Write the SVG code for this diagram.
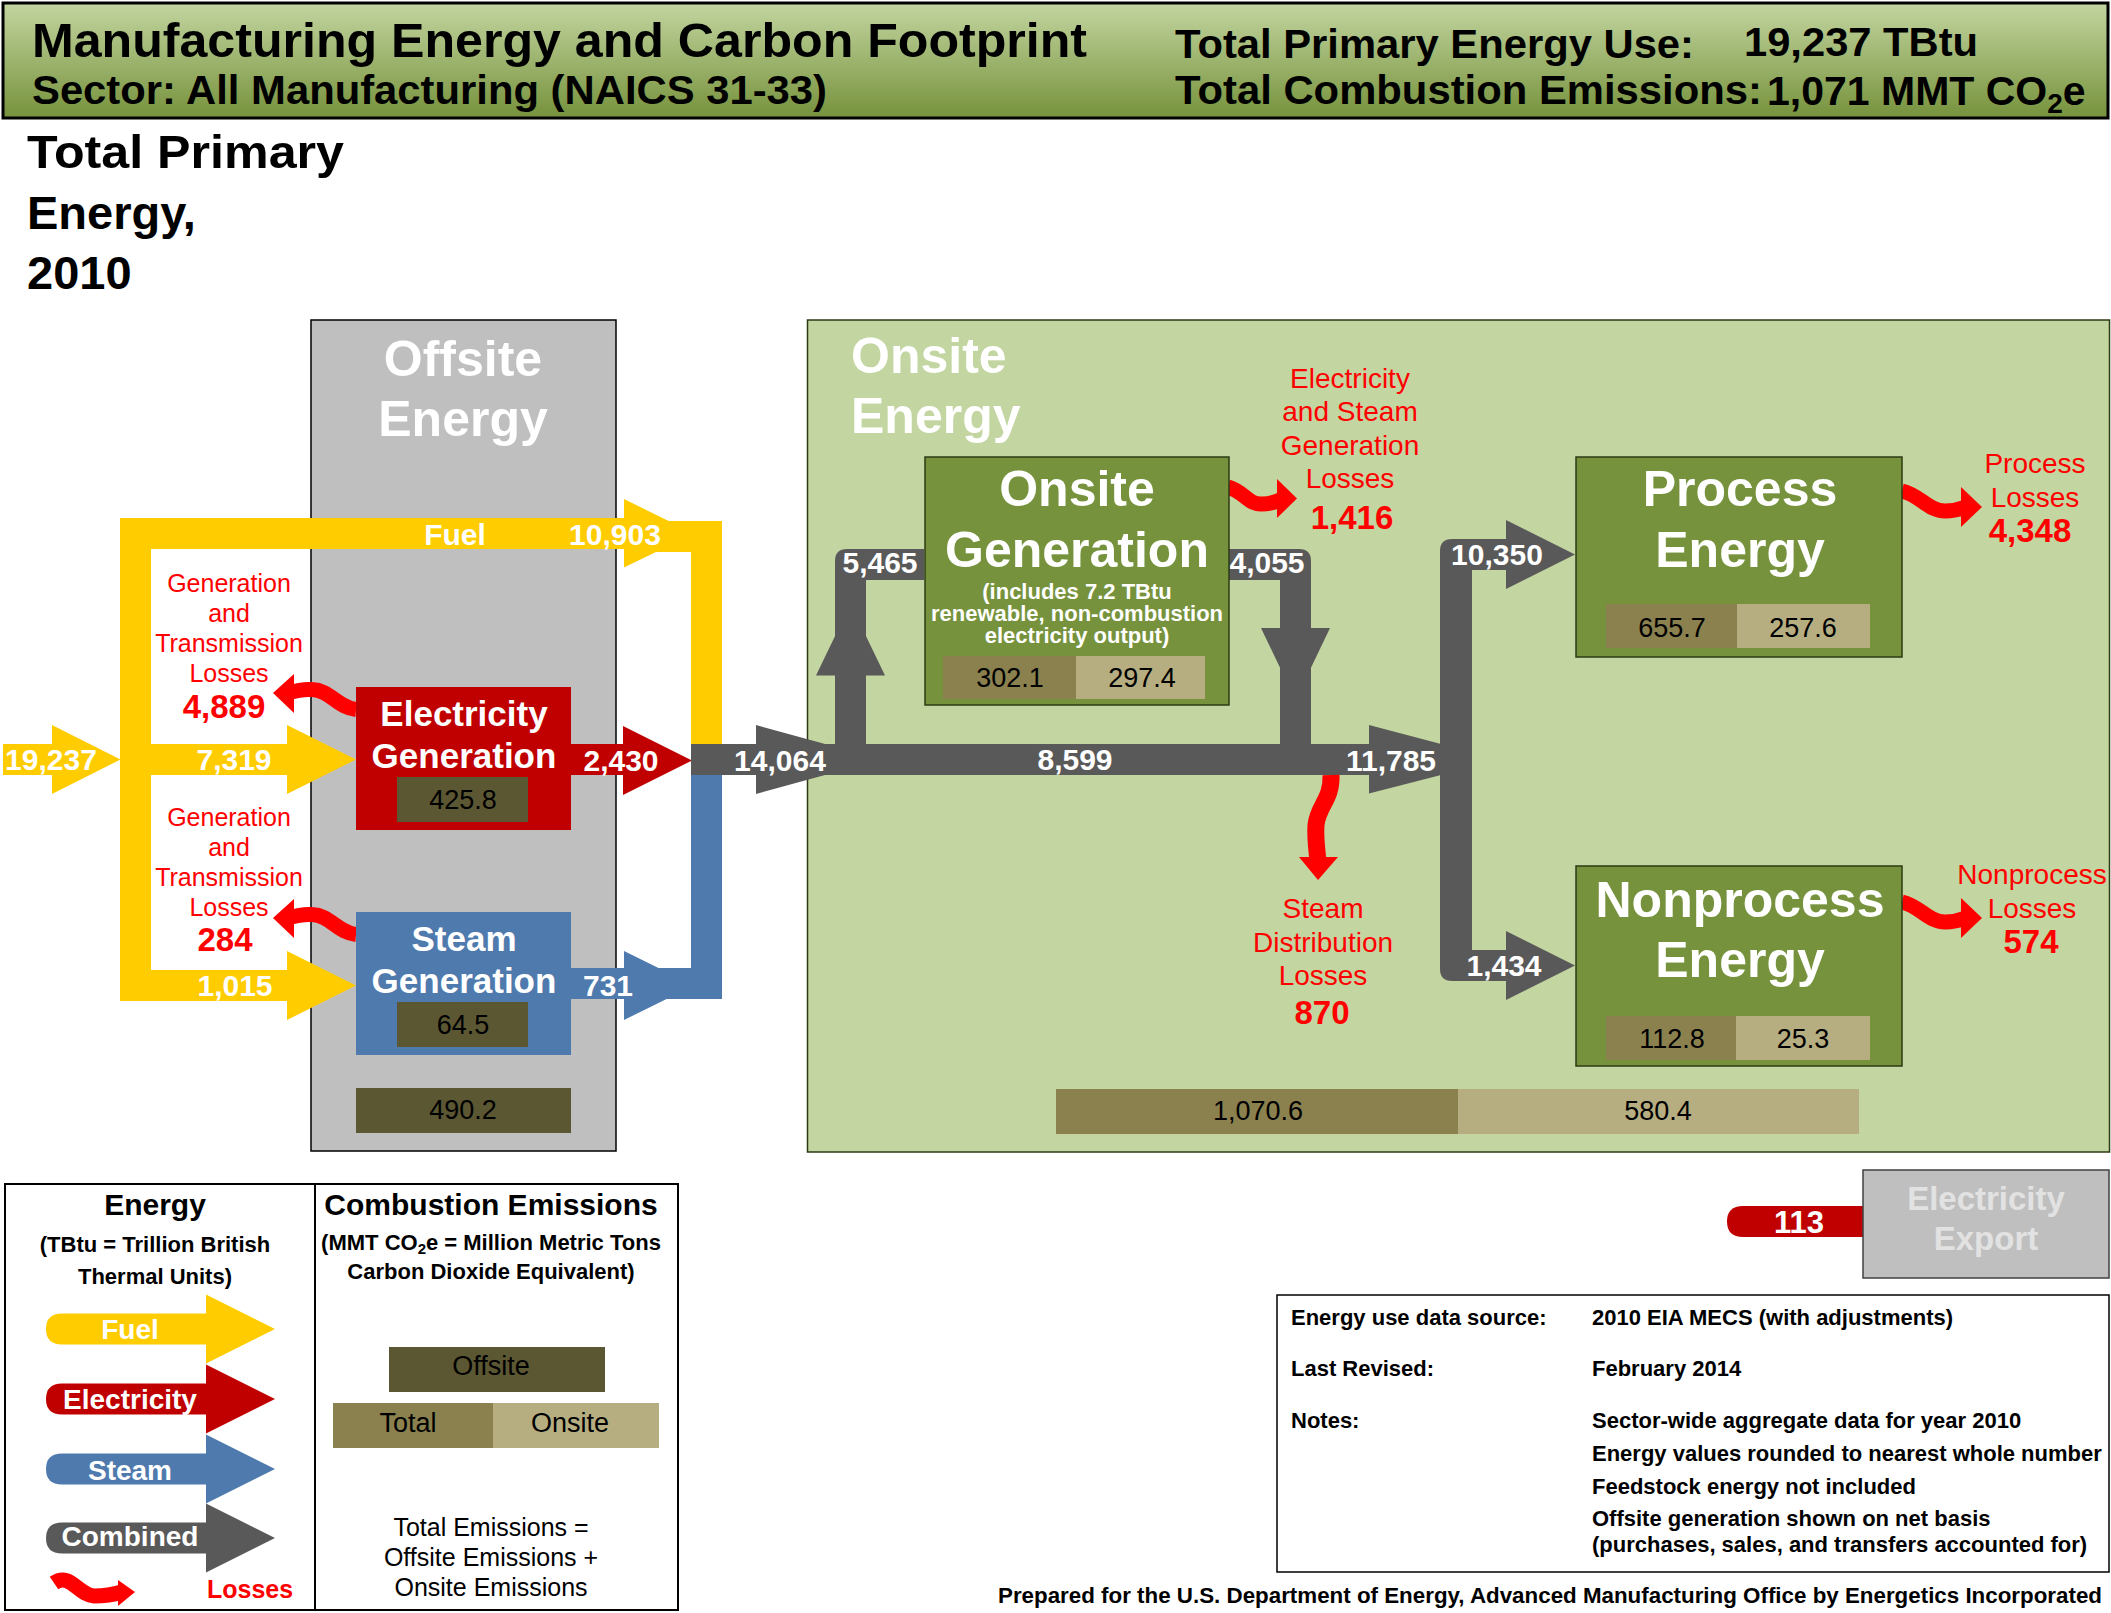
<svg xmlns="http://www.w3.org/2000/svg" width="2111" height="1613" viewBox="0 0 2111 1613">
<style>
text{font-family:"Liberation Sans",Arial,sans-serif}
.b{font-weight:700}
.m{text-anchor:middle}
.w{fill:#fff}
.fl{font-size:30px;font-weight:700;fill:#fff;text-anchor:middle}
.r{fill:#f00;font-size:25px;text-anchor:middle}
.r2{fill:#f00;font-size:28px;text-anchor:middle}
.rb{fill:#f00;font-size:33px;font-weight:700;text-anchor:middle}
.h{font-size:50px;font-weight:700;fill:#fff;text-anchor:middle}
.e{font-size:27px;fill:#000;text-anchor:middle}
.n{font-size:22px;font-weight:700;fill:#000}
.gbox{fill:#76923c;stroke:#2d3a14;stroke-width:1.5}
.dk{fill:#5c5733}.md{fill:#8a814f}.lt{fill:#b6ae81}
.lw{fill:none;stroke:#f00;stroke-width:15}
.lh{fill:#f00}
.y{fill:#fc0}.rd{fill:#c00000}.bl{fill:#4f7aae}.gr{fill:#595959}
</style>
<defs>
<linearGradient id="hdr" x1="0" y1="0" x2="0" y2="1"><stop offset="0" stop-color="#c3d5a0"/><stop offset="1" stop-color="#76923c"/></linearGradient>
<path id="legendArrow" d="M206 -15.5V-34.5L275 0L206 34.5V15.5H62Q46 15.5 46 0Q46 -15.5 62 -15.5Z"/>
<g id="lossLeft"><path class="lw" d="M356 709.5C338 708 330 690 312 689.5C305 689 298 690 288 693"/><polygon class="lh" points="273,693 294,674 294,713"/></g>
<g id="lossRight"><path class="lw" d="M1902 491C1920 495 1928 511 1945 511C1952 511 1958 510 1966 507"/><polygon class="lh" points="1982,507 1961,487 1961,527"/></g>
</defs>

<g id="header">
<rect x="3" y="3" width="2105" height="115" fill="url(#hdr)" stroke="#000" stroke-width="3"/>
<text class="b" x="32" y="57" font-size="48" textLength="1055" lengthAdjust="spacingAndGlyphs">Manufacturing Energy and Carbon Footprint</text>
<text class="b" x="32" y="104" font-size="40" textLength="795" lengthAdjust="spacingAndGlyphs">Sector: All Manufacturing (NAICS 31-33)</text>
<text class="b" x="1175" y="58" font-size="41" textLength="519" lengthAdjust="spacingAndGlyphs">Total Primary Energy Use:</text>
<text class="b" x="1744" y="56" font-size="41" textLength="234" lengthAdjust="spacingAndGlyphs">19,237 TBtu</text>
<text class="b" x="1175" y="104" font-size="41" textLength="587" lengthAdjust="spacingAndGlyphs">Total Combustion Emissions:</text>
<text class="b" x="1767" y="105" font-size="41">1,071 MMT CO<tspan font-size="28" dy="8">2</tspan><tspan dy="-8">e</tspan></text>
</g>
<g id="title"><text class="b" font-size="47" x="27" y="168" textLength="317" lengthAdjust="spacingAndGlyphs">Total Primary</text><text class="b" font-size="47" x="27" y="229">Energy,</text><text class="b" font-size="47" x="27" y="289">2010</text></g>

<g id="offsite-region"><rect x="311" y="320" width="305" height="831" fill="#bfbfbf" stroke="#000" stroke-width="1.5"/>
<text class="h" x="463" y="376">Offsite</text><text class="h" x="463" y="436">Energy</text></g>
<g id="onsite-region"><rect x="807.500" y="320" width="1302" height="832" fill="#c3d5a0" stroke="#2d3a14" stroke-width="1.5"/>
<text font-size="50" font-weight="700" fill="#fff" x="851" y="373">Onsite</text><text font-size="50" font-weight="700" fill="#fff" x="851" y="433">Energy</text></g>

<g id="connectors">
<path class="bl" d="M571 968H624V951L694 985.500L624 1020V999H571Z"/>
<rect class="bl" x="624" y="968" width="98" height="31"/>
<rect class="bl" x="691" y="760" width="31" height="239"/>
<path class="y" d="M120 518V1001H287V1020L356 985.500L287 951V970H151V775H287V794L356 759.500L287 725V744H151V549H624V567.500L694 533.500L624 499V518Z"/>
<rect class="y" x="624" y="521" width="98" height="31"/>
<rect class="y" x="691" y="521" width="31" height="223"/>
<path class="y" d="M3 744H52V725L120.500 759.500L52 794V775H3Z"/>
<path class="rd" d="M571 744H623V726L692 760.500L623 795V775H571Z"/>
<path class="gr" d="M691 744H756V725L825 744H1369V725L1441 744V775L1369 793.500V775H825L756 794V775H691Z"/>
<path class="gr" d="M1440 744V551Q1440 539 1452 539H1506V520L1575 554.500L1506 589V570H1472V950H1506V931L1575 965.500L1506 1000V981H1452Q1440 981 1440 969V775Z"/>
<path class="gr" d="M835 744V675.600H816L850.500 604L885 675.600H866V744Z"/>
<path class="gr" d="M835 675V561Q835 549 847 549H924V580H866V675Z"/>
<path class="gr" d="M1228 549H1299Q1311 549 1311 561V628H1330L1295.500 700L1261 628H1280V580H1228Z"/>
<rect class="gr" x="1280" y="660" width="31" height="90"/>
<path class="rd" d="M1863 1206H1743Q1727 1206 1727 1221.500Q1727 1237 1743 1237H1863Z"/>
<path class="lw" style="stroke-width:17" d="M1331 775C1332 800 1318 805 1316 825C1315 838 1317 850 1318 862"/>
<polygon class="lh" points="1299,857 1338,857 1318,880"/>
<path class="lw" d="M1228 487C1245 492 1248 505 1262 504C1270 504 1276 502 1282 499"/>
<polygon class="lh" points="1297,498.500 1277,479 1277,518"/>
<use href="#lossLeft"/><use href="#lossLeft" y="225"/>
<use href="#lossRight"/><use href="#lossRight" y="411"/>
</g>

<g id="flow-labels">
<text class="fl" x="51" y="770">19,237</text>
<text class="fl" x="234" y="770">7,319</text>
<text class="fl" x="235" y="996">1,015</text>
<text class="fl" x="455" y="545">Fuel</text>
<text class="fl" x="615" y="545">10,903</text>
<text class="fl" x="621" y="771">2,430</text>
<text class="fl" x="608" y="996">731</text>
<text class="fl" x="780" y="771">14,064</text>
<text class="fl" x="880" y="573">5,465</text>
<text class="fl" x="1267" y="573">4,055</text>
<text class="fl" x="1075" y="770">8,599</text>
<text class="fl" x="1391" y="771">11,785</text>
<text class="fl" x="1497" y="565">10,350</text>
<text class="fl" x="1504" y="976">1,434</text>
<text class="fl" x="1799" y="1233" style="font-size:31px">113</text>
</g>

<g id="loss-labels">
<text class="r" x="229" y="592">Generation</text><text class="r" x="229" y="622">and</text><text class="r" x="229" y="652">Transmission</text><text class="r" x="229" y="682">Losses</text><text class="rb" x="224" y="718">4,889</text>
<text class="r" x="229" y="826">Generation</text><text class="r" x="229" y="856">and</text><text class="r" x="229" y="886">Transmission</text><text class="r" x="229" y="916">Losses</text><text class="rb" x="225" y="951">284</text>
<text class="r2" x="1350" y="388">Electricity</text><text class="r2" x="1350" y="421">and Steam</text><text class="r2" x="1350" y="455">Generation</text><text class="r2" x="1350" y="488">Losses</text><text class="rb" x="1352" y="529">1,416</text>
<text class="r2" x="1323" y="918">Steam</text><text class="r2" x="1323" y="952">Distribution</text><text class="r2" x="1323" y="985">Losses</text><text class="rb" x="1322" y="1024">870</text>
<text class="r2" x="2035" y="473">Process</text><text class="r2" x="2035" y="507">Losses</text><text class="rb" x="2030" y="542">4,348</text>
<text class="r2" x="2032" y="884">Nonprocess</text><text class="r2" x="2032" y="918">Losses</text><text class="rb" x="2031" y="953">574</text>
</g>

<g id="electricity-generation"><rect class="rd" x="356" y="687" width="215" height="143"/>
<text class="b m w" font-size="35" x="464" y="726">Electricity</text><text class="b m w" font-size="35" x="464" y="768">Generation</text>
<rect class="dk" x="397" y="777" width="131" height="45"/><text class="e" x="463" y="809">425.8</text></g>
<g id="steam-generation"><rect class="bl" x="356" y="912" width="215" height="143"/>
<text class="b m w" font-size="35" x="464" y="951">Steam</text><text class="b m w" font-size="35" x="464" y="993">Generation</text>
<rect class="dk" x="397" y="1002" width="131" height="45"/><text class="e" x="463" y="1034">64.5</text></g>
<g id="offsite-emissions"><rect class="dk" x="356" y="1088" width="215" height="45"/><text class="e" x="463" y="1119">490.2</text></g>

<g id="onsite-generation"><rect class="gbox" x="925" y="457" width="304" height="248"/>
<text class="h" x="1077" y="506">Onsite</text><text class="h" x="1077" y="567">Generation</text>
<text class="b m w" font-size="22" x="1077" y="599">(includes 7.2 TBtu</text><text class="b m w" font-size="22" x="1077" y="621">renewable, non-combustion</text><text class="b m w" font-size="22" x="1077" y="643">electricity output)</text>
<rect class="md" x="943" y="656" width="133" height="43"/><rect class="lt" x="1076" y="656" width="129" height="43"/>
<text class="e" x="1010" y="687">302.1</text><text class="e" x="1142" y="687">297.4</text></g>
<g id="process-energy"><rect class="gbox" x="1576" y="457" width="326" height="200"/>
<text class="h" x="1740" y="506">Process</text><text class="h" x="1740" y="567">Energy</text>
<rect class="md" x="1606" y="604" width="131" height="44"/><rect class="lt" x="1737" y="604" width="133" height="44"/>
<text class="e" x="1672" y="637">655.7</text><text class="e" x="1803" y="637">257.6</text></g>
<g id="nonprocess-energy"><rect class="gbox" x="1576" y="866" width="326" height="200"/>
<text class="h" x="1740" y="917">Nonprocess</text><text class="h" x="1740" y="977">Energy</text>
<rect class="md" x="1606" y="1016" width="130" height="44"/><rect class="lt" x="1736" y="1016" width="134" height="44"/>
<text class="e" x="1672" y="1048">112.8</text><text class="e" x="1803" y="1048">25.3</text></g>
<g id="onsite-emissions"><rect class="md" x="1056" y="1089" width="402" height="45"/><rect class="lt" x="1458" y="1089" width="401" height="45"/>
<text class="e" x="1258" y="1120">1,070.6</text><text class="e" x="1658" y="1120">580.4</text></g>
<g id="electricity-export"><rect x="1863" y="1170" width="246" height="108" fill="#bfbfbf" stroke="#404040" stroke-width="1.5"/>
<text class="b m" fill="#e2e2e2" font-size="33" x="1986" y="1210">Electricity</text><text class="b m" fill="#e2e2e2" font-size="33" x="1986" y="1250">Export</text></g>

<g id="legend">
<rect x="5" y="1184" width="673" height="426" fill="#fff" stroke="#000" stroke-width="2"/>
<line x1="315" y1="1184" x2="315" y2="1610" stroke="#000" stroke-width="2"/>
<text class="b m" font-size="30" x="155" y="1215">Energy</text>
<text class="b m" font-size="22" x="155" y="1252">(TBtu = Trillion British</text>
<text class="b m" font-size="22" x="155" y="1284">Thermal Units)</text>
<use href="#legendArrow" y="1329" fill="#fc0"/><use href="#legendArrow" y="1399" fill="#c00000"/><use href="#legendArrow" y="1469" fill="#4f7aae"/><use href="#legendArrow" y="1538" fill="#595959"/>
<text class="b m w" font-size="28" x="130" y="1339">Fuel</text>
<text class="b m w" font-size="28" x="130" y="1409">Electricity</text>
<text class="b m w" font-size="28" x="130" y="1480">Steam</text>
<text class="b m w" font-size="28" x="130" y="1546">Combined</text>
<path class="lw" d="M54 1583C70 1572 78 1595 94 1596C102 1596 112 1595 122 1592"/><polygon class="lh" points="135,1592 118,1580 118,1606"/>
<text class="b" fill="#f00" font-size="25" x="207" y="1598">Losses</text>
<text class="b m" font-size="30" x="491" y="1215">Combustion Emissions</text>
<text class="b m" font-size="22" x="491" y="1250">(MMT CO<tspan font-size="15" dy="4">2</tspan><tspan dy="-4">e = Million Metric Tons</tspan></text>
<text class="b m" font-size="22" x="491" y="1279">Carbon Dioxide Equivalent)</text>
<rect class="dk" x="389" y="1347" width="216" height="45"/><rect class="md" x="333" y="1403" width="160" height="45"/><rect class="lt" x="493" y="1403" width="166" height="45"/>
<text class="e" x="491" y="1375">Offsite</text><text class="e" x="408" y="1432">Total</text><text class="e" x="570" y="1432">Onsite</text>
<text class="m" font-size="25" x="491" y="1536">Total Emissions =</text><text class="m" font-size="25" x="491" y="1566">Offsite Emissions +</text><text class="m" font-size="25" x="491" y="1596">Onsite Emissions</text>
</g>

<g id="notes">
<rect x="1277" y="1295" width="832" height="277" fill="#fff" stroke="#000" stroke-width="1.5"/>
<text class="n" x="1291" y="1325">Energy use data source:</text><text class="n" x="1592" y="1325">2010 EIA MECS (with adjustments)</text>
<text class="n" x="1291" y="1376">Last Revised:</text><text class="n" x="1592" y="1376">February 2014</text>
<text class="n" x="1291" y="1428">Notes:</text><text class="n" x="1592" y="1428">Sector-wide aggregate data for year 2010</text>
<text class="n" x="1592" y="1461">Energy values rounded to nearest whole number</text>
<text class="n" x="1592" y="1494">Feedstock energy not included</text>
<text class="n" x="1592" y="1526">Offsite generation shown on net basis</text>
<text class="n" x="1592" y="1552">(purchases, sales, and transfers accounted for)</text>
<text class="n" x="998" y="1603" textLength="1104" lengthAdjust="spacingAndGlyphs">Prepared for the U.S. Department of Energy, Advanced Manufacturing Office by Energetics Incorporated</text>
</g>
</svg>
